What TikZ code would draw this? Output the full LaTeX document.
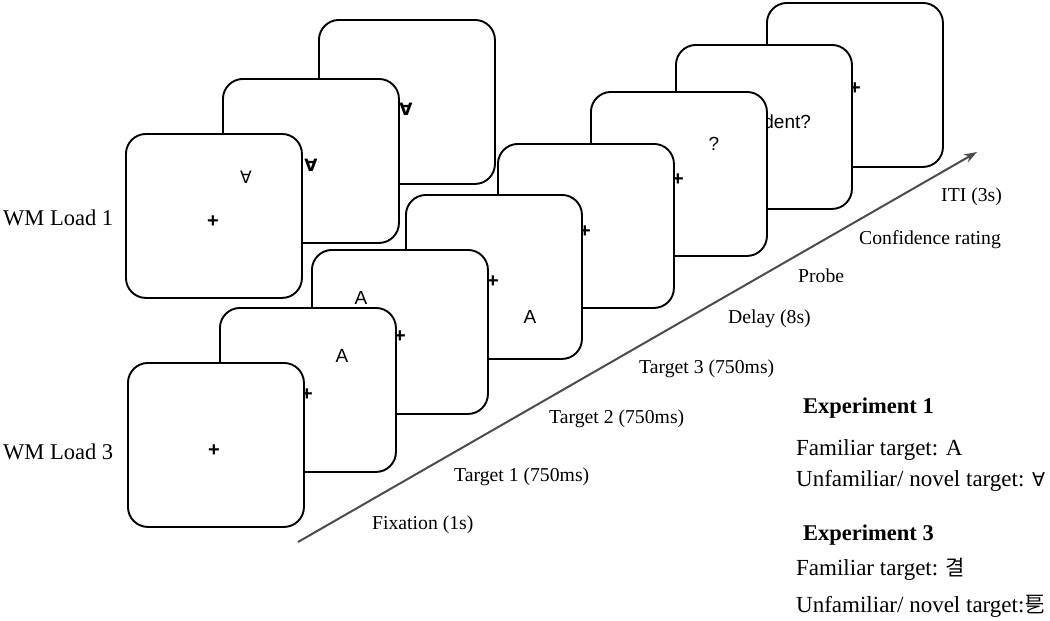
\documentclass[tikz,border=0pt]{standalone}
\usepackage{fontspec}
\setmainfont{Liberation Serif}
\newfontfamily\screenfont{Liberation Sans}
\newfontfamily\symbolfont{DejaVu Sans}
\newfontfamily\hangulfont{Noto Sans CJK KR}
\usetikzlibrary{arrows.meta}

\begin{document}
\begin{tikzpicture}[
    x=1pt, y=-1pt,
    screen/.style = {
      shape=rectangle,
      rounded corners=20pt,
      draw,
      line width=1.9pt,
      fill=white,
      anchor=north west,
      minimum width=176pt,
      minimum height=164pt,
      inner sep=0pt
    },
    sign/.style = {
      inner sep=0pt,
      font=\screenfont\fontsize{19}{19}\selectfont
    },
    cross/.style = {
      inner sep=0pt,
      font=\screenfont\bfseries\fontsize{20}{20}\selectfont
    },
    allsign/.style = {
      inner sep=0pt,
      font=\symbolfont\fontsize{17}{17}\selectfont
    },
    phase/.style = {
      anchor=base west,
      inner sep=0pt,
      font=\fontsize{19.7}{22}\selectfont
    },
    load/.style = {
      anchor=base west,
      inner sep=0pt,
      font=\fontsize{22.5}{26}\selectfont
    },
    legend/.style = {
      anchor=base west,
      inner sep=0pt,
      font=\fontsize{23}{26}\selectfont
    },
    arrow/.style = {
      -{Stealth[length=13pt, width=9pt]},
      line width=2pt,
      black!70
    }
  ]
    \useasboundingbox (0,0) rectangle (1050,621);

    % WM Load 1 stack, back to front
    \node[screen] (one3) at (318,19) {};
    \node[allsign, font=\symbolfont\bfseries\fontsize{17}{17}\selectfont] (one3v) at (406,109) {∀};
    \node[screen] (one2) at (222,78) {};
    \node[allsign, font=\symbolfont\bfseries\fontsize{17}{17}\selectfont] (one2v) at (311,165) {∀};
    \node[screen] (one1) at (125,133) {};
    \node[allsign] (one1v) at (246,177) {∀};
    \node[cross] (one1x) at (213,222) {+};

    % WM Load 3 stack, back to front
    \node[screen] (three8) at (766,2) {};
    \node[cross] (three8x) at (855,89) {+};
    \node[screen] (three7) at (675,44) {};
    \node[sign] (three7q) at (765,122) {Confident?};
    \node[screen] (three6) at (590,91) {};
    \node[cross] (three6x) at (678,180) {+};
    \node[sign] (three6q) at (714,144) {?};
    \node[screen] (three5) at (497,143) {};
    \node[cross] (three5x) at (585,232) {+};
    \node[screen] (three4) at (405,194) {};
    \node[cross] (three4x) at (493,282) {+};
    \node[sign] (three4a) at (530,317) {A};
    \node[screen] (three3) at (311,249) {};
    \node[cross] (three3x) at (400,337) {+};
    \node[sign] (three3a) at (361,298) {A};
    \node[screen] (three2) at (219,307) {};
    \node[cross] (three2x) at (307,395) {+};
    \node[sign] (three2a) at (342,356) {A};
    \node[screen] (three1) at (127,362) {};
    \node[cross] (three1x) at (214,451) {+};

    % Row labels
    \node[load] (loadone) at (3,225) {WM Load 1};
    \node[load] (loadthree) at (3,459) {WM Load 3};

    % Time axis
    \coordinate (tstart) at (298,542);
    \coordinate (tend) at (977,152);
    \draw[arrow] (tstart) -- (tend);

    \node[phase] (fix) at (372,529) {Fixation (1s)};
    \node[phase] (tgt1) at (454,481) {Target 1 (750ms)};
    \node[phase] (tgt2) at (549,423) {Target 2 (750ms)};
    \node[phase] (tgt3) at (639,373) {Target 3 (750ms)};
    \node[phase] (delay) at (728,323) {Delay (8s)};
    \node[phase] (probe) at (798,282) {Probe};
    \node[phase] (conf) at (859,244) {Confidence rating};
    \node[phase] (iti) at (941,201) {ITI (3s)};

    % Stimulus sets
    \node[legend, font=\bfseries\fontsize{22.5}{26}\selectfont] (expone) at (803,413) {Experiment 1};
    \node[legend] (famone) at (796,455) {Familiar target: A};
    \node[legend] (novone) at (796,486) {Unfamiliar/ novel target: {\symbolfont\fontsize{19}{19}\selectfont ∀}};
    \node[legend, font=\bfseries\fontsize{22.5}{26}\selectfont] (expthree) at (803,540) {Experiment 3};
    \node[legend] (famthree) at (796,575) {Familiar target: {\hangulfont\fontsize{21}{21}\selectfont 결}};
    \node[legend] (novthree) at (796,612) {Unfamiliar/ novel target:{\hangulfont\fontsize{21}{21}\selectfont 乬}};

  \end{tikzpicture}
\end{document}
